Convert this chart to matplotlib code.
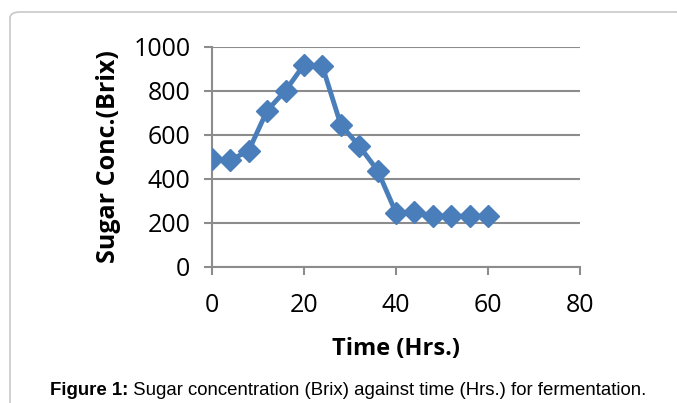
import matplotlib.pyplot as plt
from matplotlib.patches import FancyBboxPatch

hours = [0, 4, 8, 12, 16, 20, 24, 28, 32, 36, 40, 44, 48, 52, 56, 60]
brix = [489, 485, 529, 711, 802, 919, 912, 646, 550, 438, 246, 248, 231, 231, 231, 231]

plt.rcParams['font.family'] = ['Open Sans', 'DejaVu Sans']

fig = plt.figure(figsize=(6.77, 4.03), dpi=100)
ax = fig.add_axes([0.313, 0.3375, 0.544, 0.546])

# frame around the chart area
box = FancyBboxPatch((10 / 677, -0.05), 1.0, 1 - 12 / 403 + 0.05,
                     boxstyle="round,pad=0,rounding_size=0.015",
                     transform=fig.transFigure, fill=False,
                     edgecolor='#c8c8c8', linewidth=1.2, clip_on=False)
fig.patches.append(box)

ax.plot(hours, brix, color='#4a7ebb', linewidth=3.5, marker='D',
        markersize=11, markeredgecolor='#4a7ebb', markerfacecolor='#4a7ebb',
        zorder=3)

ax.set_xlim(0, 80)
ax.set_ylim(0, 1000)
ax.set_xticks([0, 20, 40, 60, 80])
ax.set_yticks([0, 200, 400, 600, 800, 1000])
ax.yaxis.grid(True, color='#8c8c8c', linewidth=1.5)
ax.set_axisbelow(True)
for s in ['top', 'right']:
    ax.spines[s].set_visible(False)
for s in ['left', 'bottom']:
    ax.spines[s].set_color('#8c8c8c')
    ax.spines[s].set_linewidth(1.5)
ax.tick_params(axis='both', colors='#8c8c8c', width=1.5, length=5.5,
               labelcolor='black', labelsize=18)
ax.tick_params(axis='x', pad=13)
ax.tick_params(axis='y', pad=10)
ax.set_xlabel('Time (Hrs.)', fontsize=17, fontweight='bold', labelpad=14)
ax.set_ylabel('Sugar Conc.(Brix)', fontsize=18, fontweight='bold', labelpad=9)

# caption: bold part + regular part, centred as one line
cap_b = 'Figure 1:'
cap_r = ' Sugar concentration (Brix) against time (Hrs.) for fermentation.'
fs = 13.4
t1 = fig.text(0, 0.032, cap_b, fontsize=fs, fontweight='bold',
              family='Liberation Sans', va='center')
t2 = fig.text(0, 0.032, cap_r, fontsize=fs, family='Liberation Sans', va='center')
r = fig.canvas.get_renderer()
w1 = t1.get_window_extent(r).width / 677
w2 = t2.get_window_extent(r).width / 677
x0 = 50 / 677
t1.set_x(x0)
t2.set_x(x0 + w1)

fig.savefig('out.png', dpi=100)
